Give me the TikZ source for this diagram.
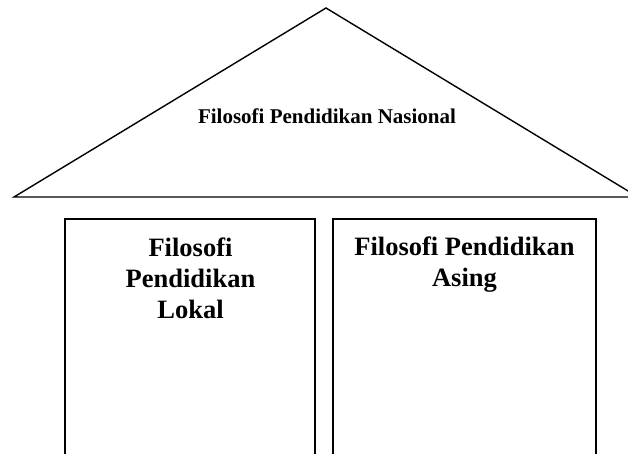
\documentclass[tikz,border=0pt]{standalone}
\usepackage{fontspec}
\setmainfont{Liberation Serif}
\begin{document}
\begin{tikzpicture}[x=1pt,y=-1pt,line width=1.4pt,
		bigtext/.style={font=\bfseries\fontsize{26.5}{31}\selectfont,align=center,inner sep=0pt,anchor=north},
		roofbox/.style={draw,line width=1.5pt}]
			\useasboundingbox (0,0) rectangle (628,454);
			\draw[line join=miter] (14,197) -- (326,8) -- (638,197) -- cycle;
			\node [font=\bfseries\fontsize{21}{25}\selectfont,anchor=base,inner sep=0pt] (nasional) at (327,124) {Filosofi Pendidikan Nasional} ;
			\draw[roofbox] (65,480) -- (65,219) -- (315,219) -- (315,480);
			\node [bigtext] (lokal) at (190.5,237) {Filosofi \\ Pendidikan \\ Lokal} ;
			\draw[roofbox] (333,480) -- (333,219) -- (596,219) -- (596,480);
			\node [bigtext] (asing) at (464.5,236) {Filosofi Pendidikan \\ Asing} ;
		\end{tikzpicture}
\end{document}
